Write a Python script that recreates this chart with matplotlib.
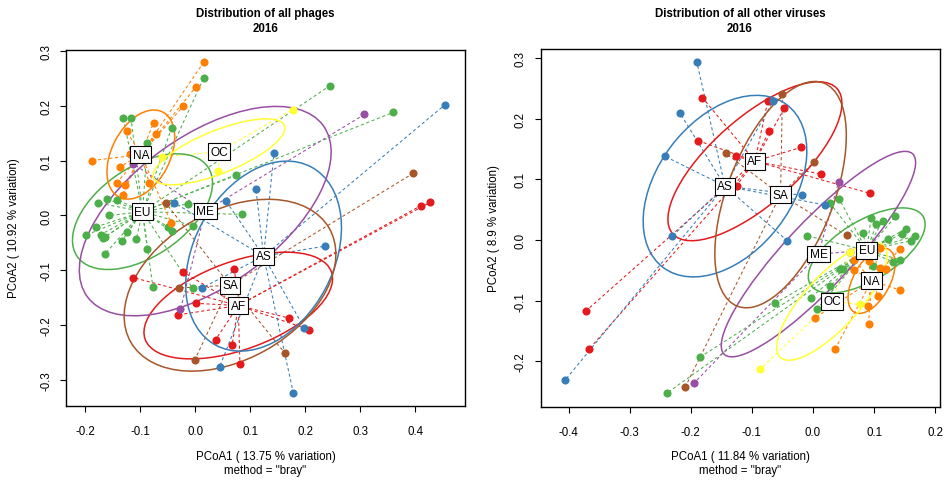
import matplotlib
matplotlib.use("Agg")
import matplotlib.pyplot as plt
from matplotlib.patches import Ellipse

plt.rcParams['font.family'] = ['Liberation Sans', 'DejaVu Sans']

groups = ["AF", "AS", "EU", "ME", "NA", "OC", "SA"]
colors = ["#E41A1C", "#377EB8", "#4DAF4A", "#984EA3", "#FF7F00", "#FFFF33", "#A65628"]

# ---- phages: PCoA scores per region ----
phage_AF = [(0.427, 0.024), (0.410, 0.018), (0.171, -0.187), (0.207, -0.208), (-0.022, -0.103),
            (-0.113, -0.113), (0.071, -0.097), (0.001, -0.160), (-0.031, -0.181), (0.037, -0.226),
            (0.067, -0.235), (0.081, -0.270)]
phage_AS = [(0.454, 0.202), (0.143, 0.114), (0.110, 0.049), (0.056, 0.026), (-0.038, 0.023),
            (0.235, -0.056), (0.198, -0.205), (0.178, -0.323), (0.012, -0.132), (0.044, -0.276)]
phage_EU = [(0.015, 0.250), (-0.131, 0.178), (-0.117, 0.178), (-0.043, 0.160), (-0.087, 0.132),
            (0.074, 0.073), (-0.177, 0.023), (-0.161, 0.030), (-0.142, 0.029), (-0.013, 0.021),
            (0.084, 0.002), (-0.156, 0.000), (-0.181, -0.021), (-0.004, -0.019), (-0.199, -0.036),
            (-0.172, -0.035), (-0.167, -0.041), (-0.164, -0.039), (-0.124, -0.030), (-0.134, -0.047),
            (-0.107, -0.042), (-0.087, -0.061), (-0.165, -0.071), (-0.049, -0.021), (-0.043, -0.029),
            (-0.077, -0.131), (-0.005, -0.132), (0.244, 0.236), (0.360, 0.188)]
phage_ME = [(-0.113, 0.094), (0.307, 0.184), (-0.027, -0.171)]
phage_NA = [(0.015, 0.279), (0.001, 0.234), (-0.022, 0.199), (-0.076, 0.169), (-0.071, 0.149),
            (-0.125, 0.154), (-0.188, 0.100), (-0.119, 0.112), (-0.136, 0.089), (-0.143, 0.059),
            (-0.127, 0.055), (-0.132, 0.038), (-0.084, 0.060), (-0.044, -0.013)]
phage_OC = [(0.177, 0.193), (-0.061, 0.107), (0.042, 0.081)]
phage_SA = [(-0.054, 0.023), (0.396, 0.077), (0.163, -0.251), (-0.029, -0.132), (-0.001, -0.263)]

phage_cent_x = [0.078, 0.124, -0.096, 0.018, -0.099, 0.043, 0.063]
phage_cent_y = [-0.164, -0.074, 0.007, 0.008, 0.111, 0.116, -0.127]
phage_ell_a = [0.180, 0.184, 0.144, 0.265, 0.087, 0.128, 0.208]
phage_ell_b = [0.080, 0.127, 0.081, 0.136, 0.053, 0.039, 0.135]
phage_ell_angle = [20, 62, 34.5, 36, 63, 22, 30]

# ---- other viruses ----
virus_AF = [(-0.181, 0.235), (-0.188, 0.164), (-0.126, 0.138), (-0.125, 0.090), (-0.074, 0.229),
            (-0.047, 0.217), (-0.072, 0.180), (-0.019, 0.153), (0.013, 0.109), (0.094, 0.077),
            (-0.372, -0.117), (-0.366, -0.179)]
virus_AS = [(-0.190, 0.293), (-0.218, 0.210), (-0.242, 0.138), (-0.065, 0.229), (-0.018, 0.074),
            (0.020, 0.058), (-0.042, -0.001), (-0.231, 0.006), (-0.406, -0.231)]
virus_EU = [(-0.009, 0.007), (0.028, 0.061), (0.043, 0.068), (0.095, 0.036), (0.104, 0.026),
            (0.114, 0.032), (0.135, 0.039), (0.082, 0.012), (0.123, 0.002), (0.145, 0.010),
            (0.153, 0.019), (0.160, -0.001), (0.167, 0.007), (0.131, -0.036), (0.142, -0.032),
            (0.044, -0.048), (0.050, -0.048), (0.028, -0.076), (-0.004, -0.095), (0.007, -0.113),
            (-0.062, -0.104), (0.099, -0.042), (-0.185, -0.193), (-0.239, -0.252)]
virus_ME = [(0.042, 0.096), (-0.195, -0.236), (0.060, -0.019)]
virus_NA = [(0.068, -0.032), (0.091, -0.035), (0.109, -0.013), (0.142, -0.015), (0.068, -0.049),
            (0.110, -0.046), (0.119, -0.048), (0.142, -0.082), (0.107, -0.092), (0.090, -0.108),
            (0.091, -0.138), (0.003, -0.128), (0.036, -0.180)]
virus_OC = [(0.061, -0.019), (0.077, -0.106), (-0.087, -0.213)]
virus_SA = [(-0.143, 0.143), (-0.050, 0.241), (0.002, 0.129), (0.055, 0.008), (-0.209, -0.242)]

virus_cent_x = [-0.095, -0.144, 0.088, 0.009, 0.096, 0.031, -0.053]
virus_cent_y = [0.130, 0.089, -0.017, -0.023, -0.067, -0.101, 0.075]
virus_ell_a = [0.180, 0.168, 0.108, 0.226, 0.059, 0.125, 0.197]
virus_ell_b = [0.071, 0.110, 0.049, 0.054, 0.030, 0.044, 0.087]
virus_ell_angle = [41.7, 53, 31.4, 47, 61.6, 47.6, 69]

phage_pts = {"AF": phage_AF, "AS": phage_AS, "EU": phage_EU, "ME": phage_ME,
             "NA": phage_NA, "OC": phage_OC, "SA": phage_SA}
virus_pts = {"AF": virus_AF, "AS": virus_AS, "EU": virus_EU, "ME": virus_ME,
             "NA": virus_NA, "OC": virus_OC, "SA": virus_SA}

draw_order = ["AF", "SA", "ME", "EU", "AS", "NA", "OC"]


def ordiplot(ax, pts, cx, cy, ea, eb, eang, xlim, ylim, xticks, yticks):
    for i, g in enumerate(groups):
        col = colors[i]
        for x, y in pts[g]:
            ax.plot([cx[i], x], [cy[i], y], color=col, lw=0.75, ls=(0, (3, 2.5)), zorder=1)
        ax.add_patch(Ellipse((cx[i], cy[i]), 2 * ea[i], 2 * eb[i], angle=eang[i],
                             fill=False, ec=col, lw=1.1, zorder=2))
    for g in draw_order:
        i = groups.index(g)
        ax.scatter([p[0] for p in pts[g]], [p[1] for p in pts[g]], s=34,
                   color=colors[i], linewidths=0, zorder=3)
    for i, g in enumerate(groups):
        ax.text(cx[i], cy[i], g, ha='center', va='center', fontsize=8.6, zorder=5,
                bbox=dict(boxstyle='square,pad=0.2', fc='white', ec='black', lw=0.8))
    ax.set_xlim(xlim)
    ax.set_ylim(ylim)
    ax.set_xticks(xticks)
    ax.set_yticks(yticks)
    ax.set_xticklabels(["%.1f" % t for t in xticks])
    ax.set_yticklabels(["%.1f" % t for t in yticks])
    ax.tick_params(direction='out', length=4, width=0.8, labelsize=8.3)
    ax.tick_params(axis='x', pad=10)
    ax.tick_params(axis='y', pad=6)
    for lab in ax.get_yticklabels():
        lab.set_rotation(90)
        lab.set_va('center')
    for s in ax.spines.values():
        s.set_linewidth(1.0)


fig = plt.figure(figsize=(9.48, 4.81), dpi=100)
ax1 = fig.add_axes([66 / 948, 74 / 481, 399 / 948, 356.3 / 481])
ax2 = fig.add_axes([540.7 / 948, 73 / 481, 399.3 / 948, 358 / 481])

ordiplot(ax1, phage_pts, phage_cent_x, phage_cent_y, phage_ell_a, phage_ell_b, phage_ell_angle,
         (-0.235, 0.490), (-0.347, 0.302), [-0.2, -0.1, 0.0, 0.1, 0.2, 0.3, 0.4],
         [-0.3, -0.2, -0.1, 0.0, 0.1, 0.2, 0.3])
ordiplot(ax2, virus_pts, virus_cent_x, virus_cent_y, virus_ell_a, virus_ell_b, virus_ell_angle,
         (-0.4457, 0.208), (-0.275, 0.315), [-0.4, -0.3, -0.2, -0.1, 0.0, 0.1, 0.2],
         [-0.2, -0.1, 0.0, 0.1, 0.2, 0.3])


def ftxt(px, py, s, **kw):
    fig.text(px / 948, 1 - py / 481, s, ha='center', va='center', **kw)


ftxt(265.5, 14, "Distribution of all phages", fontsize=8.3, fontweight='bold')
ftxt(265.5, 29, "2016", fontsize=8.3, fontweight='bold')
ftxt(740, 14, "Distribution of all other viruses", fontsize=8.3, fontweight='bold')
ftxt(740, 29, "2016", fontsize=8.3, fontweight='bold')
ftxt(265.5, 457, "PCoA1 ( 13.75 % variation)", fontsize=8.3)
ftxt(265.5, 471, 'method = "bray"', fontsize=8.3)
ftxt(740, 457, "PCoA1 ( 11.84 % variation)", fontsize=8.3)
ftxt(740, 471, 'method = "bray"', fontsize=8.3)
ftxt(14, 228, "PCoA2 ( 10.92 % variation)", fontsize=8.3, rotation=90)
ftxt(494, 229, "PCoA2 ( 8.9 % variation)", fontsize=8.3, rotation=90)

fig.savefig("out.png", dpi=100)
